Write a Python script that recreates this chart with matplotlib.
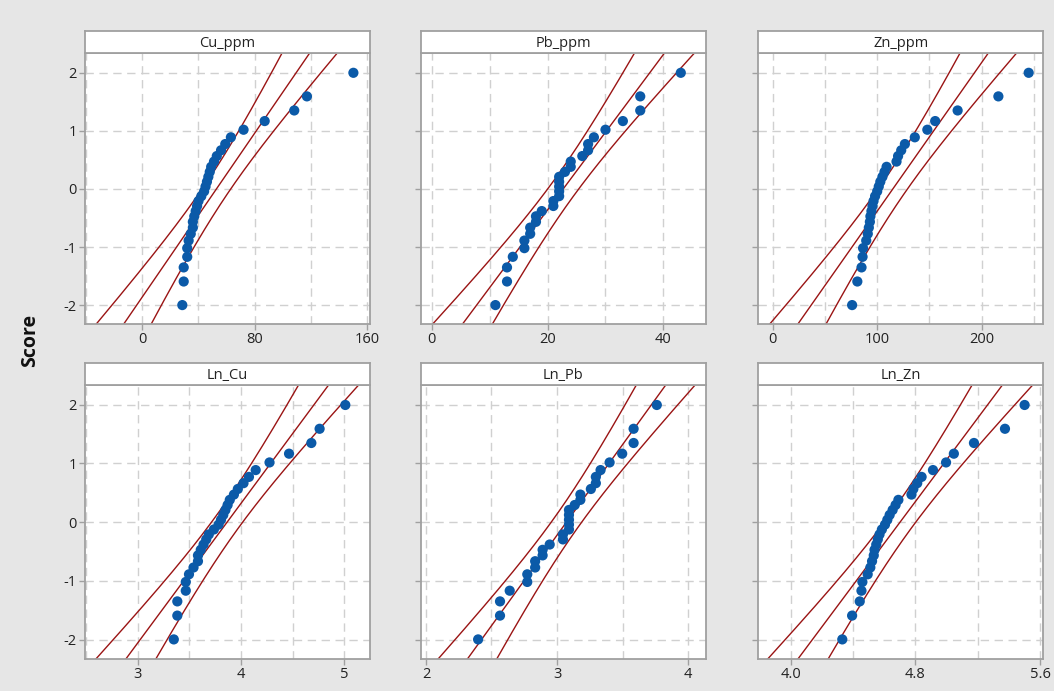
import numpy as np
import matplotlib
matplotlib.use("Agg")
import matplotlib.pyplot as plt
from matplotlib.ticker import MultipleLocator, FixedLocator, FixedFormatter

plt.rcParams['font.family'] = ['Open Sans', 'DejaVu Sans']

score = [-1.995, -1.590, -1.348, -1.166, -1.017, -0.887, -0.771, -0.664, -0.565, -0.470,
         -0.380, -0.293, -0.208, -0.124, -0.041, 0.041, 0.124, 0.208, 0.293, 0.380,
         0.470, 0.565, 0.664, 0.771, 0.887, 1.017, 1.166, 1.348, 1.590, 1.995]

titles = ["Cu_ppm", "Pb_ppm", "Zn_ppm", "Ln_Cu", "Ln_Pb", "Ln_Zn"]

cu_ppm = [28.5, 29.5, 29.5, 32, 32, 33, 34.5, 36, 36, 37, 38, 39, 40, 42, 44,
          45, 46, 47, 48, 49, 51, 53, 56, 59, 63, 72, 87, 108, 117, 150]
pb_ppm = [11, 13, 13, 14, 16, 16, 17, 17, 18, 18, 19, 21, 21, 22, 22,
          22, 22, 22, 23, 24, 24, 26, 27, 27, 28, 30, 33, 36, 36, 43]
zn_ppm = [76, 81, 85, 86, 86.5, 89.5, 91, 92, 93, 93.5, 94.5, 95.5, 96.5, 98, 100,
          101.5, 103, 105, 107, 109, 118.5, 120, 123, 126.5, 136, 148, 155.5, 177, 216, 245]
ln_cu = [3.350, 3.384, 3.384, 3.466, 3.466, 3.497, 3.541, 3.584, 3.584, 3.611,
         3.638, 3.664, 3.689, 3.738, 3.784, 3.807, 3.829, 3.850, 3.871, 3.892,
         3.932, 3.970, 4.025, 4.078, 4.143, 4.277, 4.466, 4.682, 4.762, 5.011]
ln_pb = [2.398, 2.565, 2.565, 2.639, 2.773, 2.773, 2.833, 2.833, 2.890, 2.890,
         2.944, 3.045, 3.045, 3.091, 3.091, 3.091, 3.091, 3.091, 3.135, 3.178,
         3.178, 3.258, 3.296, 3.296, 3.332, 3.401, 3.497, 3.584, 3.584, 3.761]
ln_zn = [4.331, 4.394, 4.443, 4.454, 4.460, 4.494, 4.511, 4.522, 4.533, 4.538,
         4.549, 4.559, 4.570, 4.585, 4.605, 4.620, 4.635, 4.654, 4.673, 4.691,
         4.775, 4.787, 4.812, 4.840, 4.913, 4.997, 5.047, 5.176, 5.375, 5.501]

x_ticks = [[0, 80, 160], [0, 20, 40], [0, 100, 200], [3, 4, 5], [2, 3, 4], [4.0, 4.8, 5.6]]
x_ticklabels = [["0", "80", "160"], ["0", "20", "40"], ["0", "100", "200"],
                ["3", "4", "5"], ["2", "3", "4"], ["4.0", "4.8", "5.6"]]
y_ticks = [-2, -1, 0, 1, 2]
y_ticklabels = ["-2", "-1", "0", "1", "2"]

series = [cu_ppm, pb_ppm, zn_ppm, ln_cu, ln_pb, ln_zn]

# layout (pixel based)
W, H = 1054, 691
fig = plt.figure(figsize=(W / 100, H / 100), dpi=100)
fig.patch.set_facecolor('#E6E6E6')

col_left = [85, 420.7, 758.3]
pw = 285
row_top = [53.3, 385.3]
row_bot = [324.0, 658.5]
strip_h = 22.8
x_minor = [40, 10, 50, 0.5, 0.5, 0.4]
x_lims = [(-40.6, 161.8), (-1.9, 47.3), (-13.8, 259.0), (2.49, 5.25), (1.96, 4.134), (3.792, 5.621)]
ylim = (-2.32, 2.33)

frame_col = '#A0A0A0'
grid_col = '#D0D0D0'
line_col = '#9A1414'
pt_col = '#0B5AA8'

zz = np.linspace(-3, 3, 400)

for k in range(6):
    r, c = divmod(k, 3)
    left = col_left[c] / W
    bottom = (H - row_bot[r]) / H
    height = (row_bot[r] - row_top[r]) / H
    ax = fig.add_axes([left, bottom, pw / W, height])
    ax.set_facecolor('white')
    x = np.array(series[k], dtype=float)
    y = np.array(score)
    n = len(x)
    m = x.mean()
    s = x.std(ddof=1)
    fit = m + s * zz
    hw = 1.96 * s * np.sqrt((1 + zz ** 2 / 2) / n)
    for line in (fit - hw, fit, fit + hw):
        ax.plot(line, zz, color=line_col, lw=1.0, zorder=2)
    ax.scatter(x, y, s=54, color=pt_col, edgecolors='none', zorder=3)

    ax.set_xlim(*x_lims[k])
    ax.set_ylim(*ylim)
    ax.xaxis.set_major_locator(FixedLocator(x_ticks[k]))
    ax.xaxis.set_major_formatter(FixedFormatter(x_ticklabels[k]))
    ax.xaxis.set_minor_locator(MultipleLocator(x_minor[k]))
    ax.yaxis.set_major_locator(FixedLocator(y_ticks))
    if c == 0:
        ax.yaxis.set_major_formatter(FixedFormatter(y_ticklabels))
    else:
        ax.set_yticklabels([])
    ax.grid(which='both', axis='x', color=grid_col, linestyle=(0, (6, 4)), lw=1.0, zorder=0)
    ax.grid(which='major', axis='y', color=grid_col, linestyle=(0, (6, 4)), lw=1.0, zorder=0)
    ax.set_axisbelow(True)
    ax.tick_params(which='major', length=4, width=1, color=frame_col, labelsize=10.5,
                   labelcolor='#222222', pad=2)
    ax.tick_params(which='minor', length=0)
    for sp in ax.spines.values():
        sp.set_color(frame_col)
        sp.set_linewidth(1.3)

    # strip header
    sax = fig.add_axes([left, (H - row_top[r]) / H, pw / W, strip_h / H])
    sax.set_facecolor('white')
    sax.set_xticks([])
    sax.set_yticks([])
    for sp in sax.spines.values():
        sp.set_color(frame_col)
        sp.set_linewidth(1.3)
    sax.text(0.5, 0.45, titles[k], ha='center', va='center', fontsize=10.5,
             color='#222222', transform=sax.transAxes)

fig.text(30 / W, 1 - 340 / H, 'Score', rotation=90, ha='center', va='center',
         fontsize=14, fontweight='bold', color='#111111')

fig.savefig('out.png', dpi=100, facecolor=fig.get_facecolor())
